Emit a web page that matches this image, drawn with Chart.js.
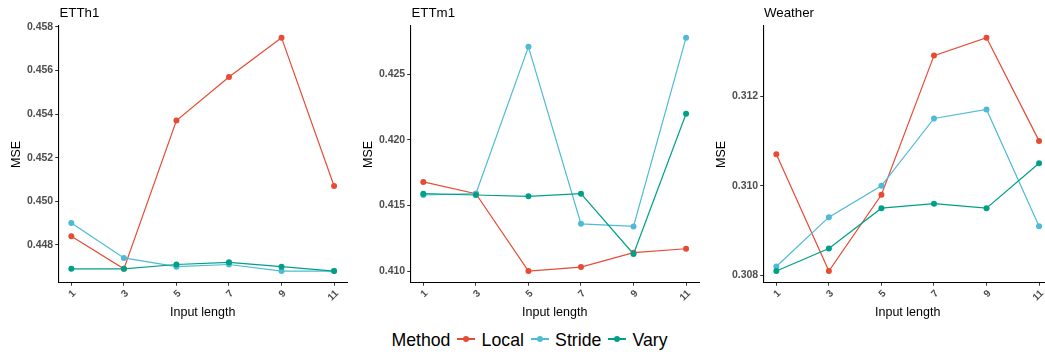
<!DOCTYPE html>
<html>
<head>
<meta charset="utf-8">
<script src="https://cdn.jsdelivr.net/npm/chart.js@4.4.0/dist/chart.umd.min.js"></script>
<style>
  html, body { margin: 0; padding: 0; background: #fff; overflow: hidden; }
  body { width: 1045px; height: 356px; position: relative; font-family: "Liberation Sans", Arial, sans-serif; }
  .panel { position: absolute; top: 0; width: 352px; height: 325px; }
  .titulo { position: absolute; top: 6px; font-size: 13.3px; line-height: 13px; color: #000; white-space: nowrap; }
  #legenda { position: absolute; left: 0; width: 1031px; padding-left: 14px; top: 330.6px; text-align: center; font-size: 17.7px; line-height: 18px; color: #000; white-space: nowrap; }
  .chave { display: inline-block; position: relative; width: 17.7px; height: 18px; vertical-align: top; margin: 0 6.5px 0 7px; }
  .chave .linha { position: absolute; left: 0; right: 0; top: 7.7px; height: 1.4px; }
  .chave .ponto { position: absolute; left: 5.85px; top: 5.4px; width: 6px; height: 6px; border-radius: 50%; }
</style>
</head>
<body>

<div class="panel" style="left:0px"><canvas id="g1" width="352" height="325"></canvas></div>
<div class="panel" style="left:352px"><canvas id="g2" width="352" height="325"></canvas></div>
<div class="panel" style="left:704.5px"><canvas id="g3" width="352" height="325"></canvas></div>
<div class="titulo" style="left:59.5px">ETTh1</div>
<div class="titulo" style="left:411.5px">ETTm1</div>
<div class="titulo" style="left:764px">Weather</div>
<div id="legenda"></div>

<script>
// dados
const inputLengths = [1, 3, 5, 7, 9, 11];
const methods = ['Local', 'Stride', 'Vary'];
const methodColors = ['#E64B35', '#4DBBD5', '#00A087'];

const etth1Local  = [0.4484, 0.4469, 0.4537, 0.4557, 0.4575, 0.4507];
const etth1Stride = [0.4490, 0.4474, 0.4470, 0.4471, 0.4468, 0.4468];
const etth1Vary   = [0.4469, 0.4469, 0.4471, 0.4472, 0.4470, 0.4468];

const ettm1Local  = [0.4168, 0.4159, 0.4100, 0.4103, 0.4114, 0.4117];
const ettm1Stride = [0.4158, 0.4159, 0.4271, 0.4136, 0.4134, 0.4278];
const ettm1Vary   = [0.4159, 0.4158, 0.4157, 0.4159, 0.4113, 0.4220];

const weatherLocal  = [0.3107, 0.3081, 0.3098, 0.3129, 0.3133, 0.3110];
const weatherStride = [0.3082, 0.3093, 0.3100, 0.3115, 0.3117, 0.3091];
const weatherVary   = [0.3081, 0.3086, 0.3095, 0.3096, 0.3095, 0.3105];

const etth1Ticks   = [0.448, 0.450, 0.452, 0.454, 0.456, 0.458];
const ettm1Ticks   = [0.410, 0.415, 0.420, 0.425];
const weatherTicks = [0.308, 0.310, 0.312];

Chart.defaults.font.family = '"Liberation Sans", Arial, sans-serif';
Chart.defaults.animation = false;

// expansao de 5% como no ggplot
function limites(series) {
    const todos = [].concat(...series);
    const min = Math.min(...todos), max = Math.max(...todos);
    const pad = (max - min) * 0.05;
    return { min: min - pad, max: max + pad };
}

function criarGrafico(id, series, yTicks) {
    const lim = limites(series);
    const xLim = limites([inputLengths]);
    const ctx = document.getElementById(id).getContext('2d');
    return new Chart(ctx, {
        type: 'line',
        data: {
            datasets: series.map((vals, i) => ({
                label: methods[i],
                data: vals.map((v, k) => ({ x: inputLengths[k], y: v })),
                borderColor: methodColors[i],
                backgroundColor: methodColors[i],
                pointBackgroundColor: methodColors[i],
                pointBorderWidth: 0,
                pointRadius: 3,
                borderWidth: 1.2,
                tension: 0,
                order: 3 - i // Vary por cima, como no ggplot
            }))
        },
        options: {
            responsive: false,
            layout: { padding: { top: 26, right: 4.8, left: 0, bottom: 0 } },
            plugins: { legend: { display: false }, tooltip: { enabled: false } },
            scales: {
                x: {
                    type: 'linear',
                    min: xLim.min, max: xLim.max,
                    afterBuildTicks: s => { s.ticks = inputLengths.map(v => ({ value: v })); },
                    afterFit: s => { s.height = 42.3; },
                    ticks: { color: '#4D4D4D', font: { size: 10, weight: 'bold' }, minRotation: 45, maxRotation: 45, padding: 2,
                             labelOffset: 3, callback: v => String(v) },
                    grid: { drawOnChartArea: false, drawTicks: true, tickLength: 3, color: '#333', lineWidth: 1 },
                    border: { display: true, color: '#000', width: 1.1 },
                    title: { display: true, text: 'Input length', color: '#000', font: { size: 12.5 }, padding: { top: 0, bottom: 4.5 } }
                },
                y: {
                    type: 'linear',
                    min: lim.min, max: lim.max,
                    afterBuildTicks: s => { s.ticks = yTicks.map(v => ({ value: v })); },
                    afterFit: s => { s.width = 58.2; },
                    ticks: { color: '#4D4D4D', font: { size: 10.5, weight: 'bold' }, padding: 2,
                             callback: v => Number(v).toFixed(3) },
                    grid: { drawOnChartArea: false, drawTicks: true, tickLength: 3, color: '#333', lineWidth: 1 },
                    border: { display: true, color: '#000', width: 1.1 },
                    title: { display: true, text: 'MSE', color: '#000', font: { size: 12.5 }, padding: { top: 9, bottom: 0 } }
                }
            }
        }
    });
}

criarGrafico('g1', [etth1Local, etth1Stride, etth1Vary], etth1Ticks);
criarGrafico('g2', [ettm1Local, ettm1Stride, ettm1Vary], ettm1Ticks);
criarGrafico('g3', [weatherLocal, weatherStride, weatherVary], weatherTicks);

// legenda comum em baixo
const legenda = document.getElementById('legenda');
let html = '<span>Method</span>';
methods.forEach((m, i) => {
    html += '<span class="chave"><span class="linha" style="background:' + methodColors[i] + '"></span>' +
            '<span class="ponto" style="background:' + methodColors[i] + '"></span></span><span>' + m + '</span>';
});
legenda.innerHTML = html;
</script>
</body>
</html>
